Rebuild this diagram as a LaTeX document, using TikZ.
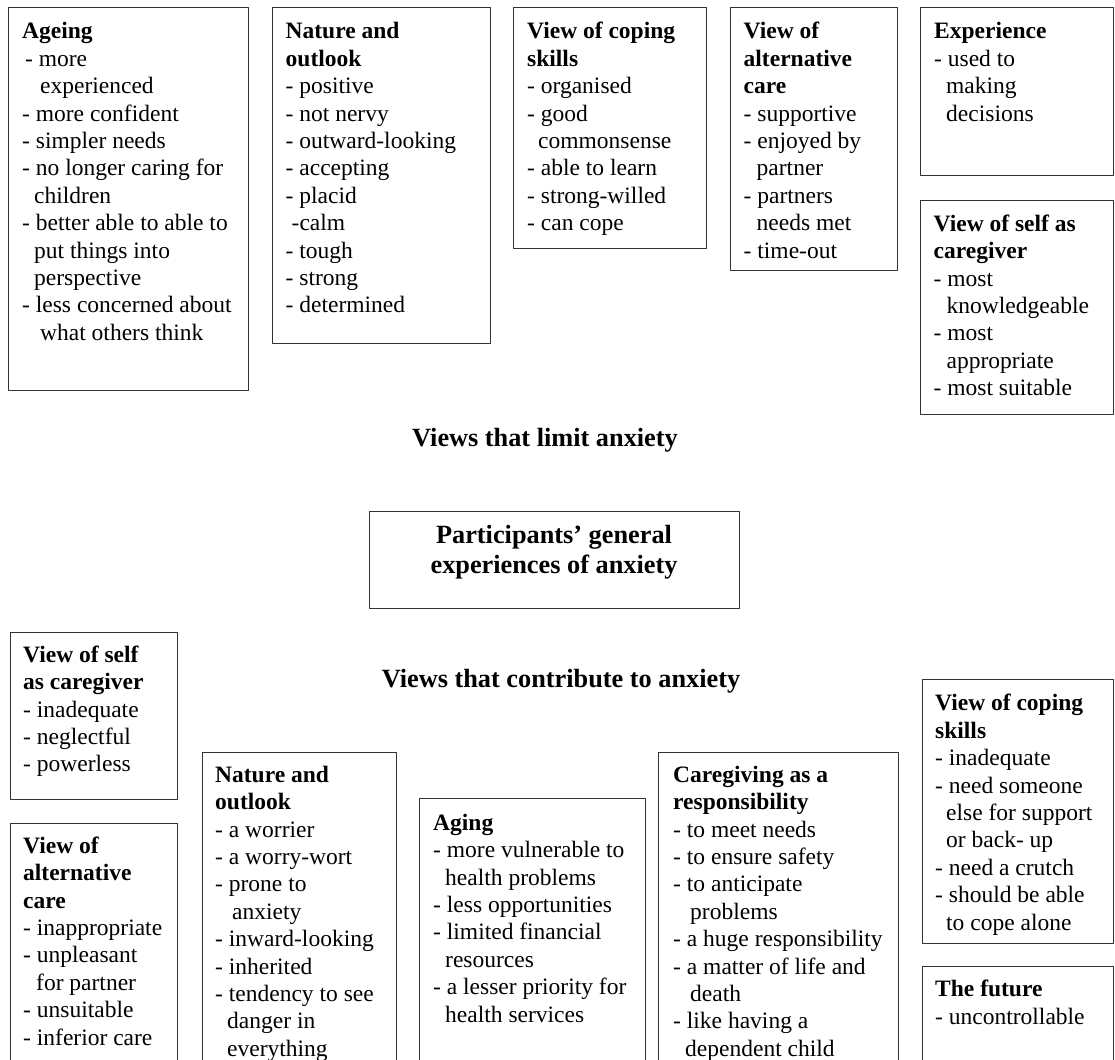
\documentclass[tikz,border=0pt]{standalone}
\usepackage{fontspec}
\setmainfont{Liberation Serif}
\begin{document}
\begin{tikzpicture}[x=1pt,y=-1pt,line join=round,
  box/.style={draw=black!80, line width=1.3pt, anchor=north west, inner sep=0pt},
  txt/.style={anchor=north west, inner sep=0pt, align=left, font=\fontsize{23.5}{27.4}\selectfont},
  head/.style={inner sep=0pt, font=\fontsize{26.3}{30}\selectfont\bfseries}]
 \useasboundingbox (0,0) rectangle (1115,1059);
 \clip (0,0) rectangle (1115,1059);
 % views that limit anxiety
 \node[box, minimum width=240pt, minimum height=383pt] (ageing) at (8,7) {};
 \node[box, minimum width=218pt, minimum height=336pt] (nature) at (272,7) {};
 \node[box, minimum width=193pt, minimum height=241pt] (coping) at (513,7) {};
 \node[box, minimum width=167pt, minimum height=263pt] (altcare) at (730,7) {};
 \node[box, minimum width=193pt, minimum height=168pt] (experience) at (920,7) {};
 \node[box, minimum width=193pt, minimum height=214pt] (selfcare) at (920,200) {};
 \node[txt] (ageing-t) at ([shift={(14,12.5)}]ageing.north west) {\strut\textbf{Ageing}\\
   \hspace*{3pt}- more\\ \hspace*{18pt}experienced\\ - more confident\\ - simpler needs\\
   - no longer caring for\\ \hspace*{12pt}children\\ - better able to able to\\
   \hspace*{12pt}put things into\\ \hspace*{12pt}perspective\\ - less concerned about\\
   \hspace*{18pt}what others think};
 \node[txt] (nature-t) at ([shift={(13.5,12.5)}]nature.north west) {\strut\textbf{Nature and}\\
   \textbf{outlook}\\ - positive\\ - not nervy\\ - outward-looking\\ - accepting\\ - placid\\
   \hspace*{6pt}-calm\\ - tough\\ - strong\\ - determined};
 \node[txt] (coping-t) at ([shift={(14,12.5)}]coping.north west) {\strut\textbf{View of coping}\\
   \textbf{skills}\\ - organised\\ - good\\ \hspace*{11pt}commonsense\\ - able to learn\\
   - strong-willed\\ - can cope};
 \node[txt] (altcare-t) at ([shift={(13.5,12.5)}]altcare.north west) {\strut\textbf{View of}\\
   \textbf{alternative}\\ \textbf{care}\\ - supportive\\ - enjoyed by\\ \hspace*{13pt}partner\\
   - partners\\ \hspace*{13pt}needs met\\ - time-out};
 \node[txt] (experience-t) at ([shift={(14,12.5)}]experience.north west) {\strut\textbf{Experience}\\
   - used to\\ \hspace*{12pt}making\\ \hspace*{12pt}decisions};
 \node[txt] (selfcare-t) at ([shift={(13.5,12)}]selfcare.north west) {\strut\textbf{View of self as}\\
   \textbf{caregiver}\\ - most\\ \hspace*{13pt}knowledgeable\\ - most\\ \hspace*{13pt}appropriate\\
   - most suitable};
 \node[head, anchor=base] (limit) at (545,446) {Views that limit anxiety};
 % centre
 \node[box, minimum width=370pt, minimum height=97pt] (general) at (369,511) {};
 \node[head, align=center, anchor=north] (general-t) at (554,522) {\strut Participants' general\\
   experiences of anxiety};
 % views that contribute to anxiety
 \node[head, anchor=base] (contribute) at (561,687) {Views that contribute to anxiety};
 \node[box, minimum width=167pt, minimum height=167pt] (selfcare2) at (10,632) {};
 \node[box, minimum width=167pt, minimum height=260pt] (altcare2) at (10,823) {};
 \node[box, minimum width=194pt, minimum height=330pt] (nature2) at (202,752) {};
 \node[box, minimum width=226pt, minimum height=290pt] (aging2) at (419,798) {};
 \node[box, minimum width=240pt, minimum height=330pt] (caregiving) at (658,752) {};
 \node[box, minimum width=191pt, minimum height=264pt] (coping2) at (922,679) {};
 \node[box, minimum width=191pt, minimum height=120pt] (future) at (922,966) {};
 \node[txt] (selfcare2-t) at ([shift={(13,11)}]selfcare2.north west) {\strut\textbf{View of self}\\
   \textbf{as caregiver}\\ - inadequate\\ - neglectful\\ - powerless};
 \node[txt] (altcare2-t) at ([shift={(13,11)}]altcare2.north west) {\strut\textbf{View of}\\
   \textbf{alternative}\\ \textbf{care}\\ - inappropriate\\ - unpleasant\\ \hspace*{13pt}for partner\\
   - unsuitable\\ - inferior care};
 \node[txt] (nature2-t) at ([shift={(13,11)}]nature2.north west) {\strut\textbf{Nature and}\\
   \textbf{outlook}\\ - a worrier\\ - a worry-wort\\ - prone to\\ \hspace*{17pt}anxiety\\
   - inward-looking\\ - inherited\\ - tendency to see\\ \hspace*{12pt}danger in\\
   \hspace*{12pt}everything};
 \node[txt] (aging2-t) at ([shift={(14,13)}]aging2.north west) {\strut\textbf{Aging}\\
   - more vulnerable to\\ \hspace*{12pt}health problems\\ - less opportunities\\
   - limited financial\\ \hspace*{12pt}resources\\ - a lesser priority for\\
   \hspace*{12pt}health services};
 \node[txt] (caregiving-t) at ([shift={(15,11)}]caregiving.north west) {\strut\textbf{Caregiving as a}\\
   \textbf{responsibility}\\ - to meet needs\\ - to ensure safety\\ - to anticipate\\
   \hspace*{17pt}problems\\ - a huge responsibility\\ - a matter of life and\\
   \hspace*{17pt}death\\ - like having a\\ \hspace*{12pt}dependent child};
 \node[txt] (coping2-t) at ([shift={(13,12.5)}]coping2.north west) {\strut\textbf{View of coping}\\
   \textbf{skills}\\ - inadequate\\ - need someone\\ \hspace*{11pt}else for support\\
   \hspace*{11pt}or back- up\\ - need a crutch\\ - should be able\\ \hspace*{11pt}to cope alone};
 \node[txt] (future-t) at ([shift={(13,11.5)}]future.north west) {\strut\textbf{The future}\\
   - uncontrollable};
\end{tikzpicture}
\end{document}
